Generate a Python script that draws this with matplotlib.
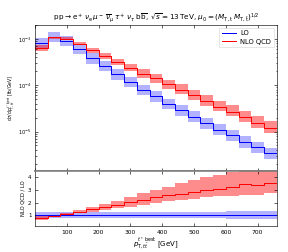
import numpy as np
import matplotlib
matplotlib.use("Agg")
import matplotlib.pyplot as plt

# bin edges in GeV
bin_edges = [0, 40, 80, 120, 160, 200, 240, 280, 320, 360, 400, 440, 480,
             520, 560, 600, 640, 680, 720, 760]

lo = [8.1e-4, 1.12e-3, 9.2e-4, 6.1e-4, 3.8e-4, 2.6e-4, 1.73e-4, 1.18e-4,
      8.0e-5, 5.8e-5, 4.0e-5, 2.9e-5, 2.1e-5, 1.5e-5, 1.1e-5, 8.4e-6,
      6.0e-6, 4.6e-6, 3.4e-6]
lo_rel_down = [0.77, 0.77, 0.77, 0.77, 0.77, 0.77, 0.76, 0.76, 0.76, 0.76,
               0.76, 0.75, 0.75, 0.75, 0.75, 0.74, 0.74, 0.74, 0.74]
lo_rel_up = [1.27, 1.27, 1.27, 1.27, 1.28, 1.28, 1.28, 1.28, 1.29, 1.29,
             1.29, 1.30, 1.30, 1.30, 1.30, 1.31, 1.31, 1.31, 1.31]

nlo = [6.3e-4, 1.08e-3, 1.01e-3, 7.9e-4, 5.7e-4, 4.26e-4, 3.2e-4, 2.4e-4,
       1.76e-4, 1.40e-4, 1.04e-4, 7.8e-5, 6.0e-5, 4.5e-5, 3.4e-5, 2.7e-5,
       2.07e-5, 1.56e-5, 1.22e-5]
nlo_low = [5.35e-4, 9.74e-4, 9.48e-4, 7.38e-4, 4.90e-4, 3.69e-4, 2.68e-4,
           1.98e-4, 1.46e-4, 1.13e-4, 8.4e-5, 6.38e-5, 4.89e-5, 3.65e-5,
           2.75e-5, 2.13e-5, 1.58e-5, 1.20e-5, 9.35e-6]
nlo_high = [7.45e-4, 1.12e-3, 1.086e-3, 8.54e-4, 6.38e-4, 4.94e-4, 3.74e-4,
            2.86e-4, 2.21e-4, 1.74e-4, 1.31e-4, 1.04e-4, 7.98e-5, 6.1e-5,
            4.6e-5, 3.7e-5, 2.84e-5, 2.14e-5, 1.67e-5]

edges = np.array(bin_edges, dtype=float)
lo_a = np.array(lo)
lo_dn = lo_a * np.array(lo_rel_down)
lo_up = lo_a * np.array(lo_rel_up)
nlo_a = np.array(nlo)
nlo_dn = np.array(nlo_low)
nlo_up = np.array(nlo_high)


def st(v):
    return np.append(v, v[-1])


blue = "#0000ff"
red = "#ff0000"

plt.rcParams['font.family'] = ['DejaVu Sans']
plt.rcParams['mathtext.fontset'] = 'dejavusans'

fig = plt.figure(figsize=(4.0, 3.5), dpi=72)
ax = fig.add_axes([0.1215, 0.321, 0.8395, 0.580])
axr = fig.add_axes([0.1215, 0.103, 0.8395, 0.218])

# main panel
ax.fill_between(edges, st(lo_dn), st(lo_up), step='post', color=blue,
                alpha=0.3, linewidth=0)
ax.fill_between(edges, st(nlo_dn), st(nlo_up), step='post', color=red,
                alpha=0.45, linewidth=0)
ax.step(edges, st(lo_a), where='post', color=blue, lw=1.0, label='LO')
ax.step(edges, st(nlo_a), where='post', color=red, lw=1.0, label='NLO QCD')
ax.set_yscale('log')
ax.set_xlim(0, 760)
ax.set_ylim(1.4e-6, 2e-3)
ax.set_xticklabels([])
ax.tick_params(axis='both', which='both', direction='in', top=True,
               right=True, labelsize=5, width=0.6)
ax.tick_params(which='major', length=3)
ax.tick_params(which='minor', length=1.5)
ax.set_ylabel(r'$\mathrm{d}\sigma/\mathrm{d}p_{\mathrm{T},t\bar{t}}^{t^*\,\mathrm{best}}$ [fb/GeV]',
              fontsize=4.5, labelpad=2)
ax.set_title(r'$\mathrm{p\,p} \to \mathrm{e}^+\,\nu_\mathrm{e}\,\mu^-\,\overline{\nu}_\mu\,\tau^+\,\nu_\tau\,\mathrm{b}\,\overline{\mathrm{b}}$, $\sqrt{s}=13\,$TeV, $\mu_0=(M_{\mathrm{T,t}}\,M_{\mathrm{T,\bar{t}}})^{1/2}$',
             fontsize=7.2, pad=3)
leg = ax.legend(loc='upper right', fontsize=6.8, frameon=True, fancybox=False,
                handlelength=2.0, borderpad=0.4, labelspacing=0.35,
                handletextpad=0.7, borderaxespad=0.4)
leg.get_frame().set_linewidth(0.6)
ax.spines['bottom'].set_color('#777777')
ax.spines['bottom'].set_linewidth(1.5)
for s in ['top', 'left', 'right']:
    ax.spines[s].set_linewidth(0.6)

# ratio panel
r_lo = lo_a / lo_a
r_lo_dn = lo_dn / lo_a
r_lo_up = lo_up / lo_a
r_nlo = nlo_a / lo_a
r_nlo_dn = nlo_dn / lo_a
r_nlo_up = nlo_up / lo_a
axr.fill_between(edges, st(r_lo_dn), st(r_lo_up), step='post', color=blue,
                 alpha=0.3, linewidth=0)
axr.fill_between(edges, st(r_nlo_dn), st(r_nlo_up), step='post', color=red,
                 alpha=0.45, linewidth=0)
axr.step(edges, st(r_lo), where='post', color=blue, lw=1.0)
axr.step(edges, st(r_nlo), where='post', color=red, lw=1.0)
axr.set_xlim(0, 760)
axr.set_ylim(0.15, 4.5)
axr.set_yticks([1, 2, 3, 4])
axr.set_xticks([100, 200, 300, 400, 500, 600, 700])
axr.tick_params(axis='both', which='both', direction='in', top=True,
                right=True, labelsize=5.5, width=0.6, length=3)
axr.tick_params(axis='x', labelsize=6)
axr.set_ylabel('NLO QCD / LO', fontsize=5.2, labelpad=2)
axr.set_xlabel(r'$p_{\mathrm{T},t\bar{t}}^{t^*\,\mathrm{best}}$ [GeV]',
               fontsize=7, labelpad=1)
axr.spines['top'].set_color('#777777')
axr.spines['top'].set_linewidth(1.5)
for s in ['bottom', 'left', 'right']:
    axr.spines[s].set_linewidth(0.6)

fig.savefig('out.png', dpi=72)
